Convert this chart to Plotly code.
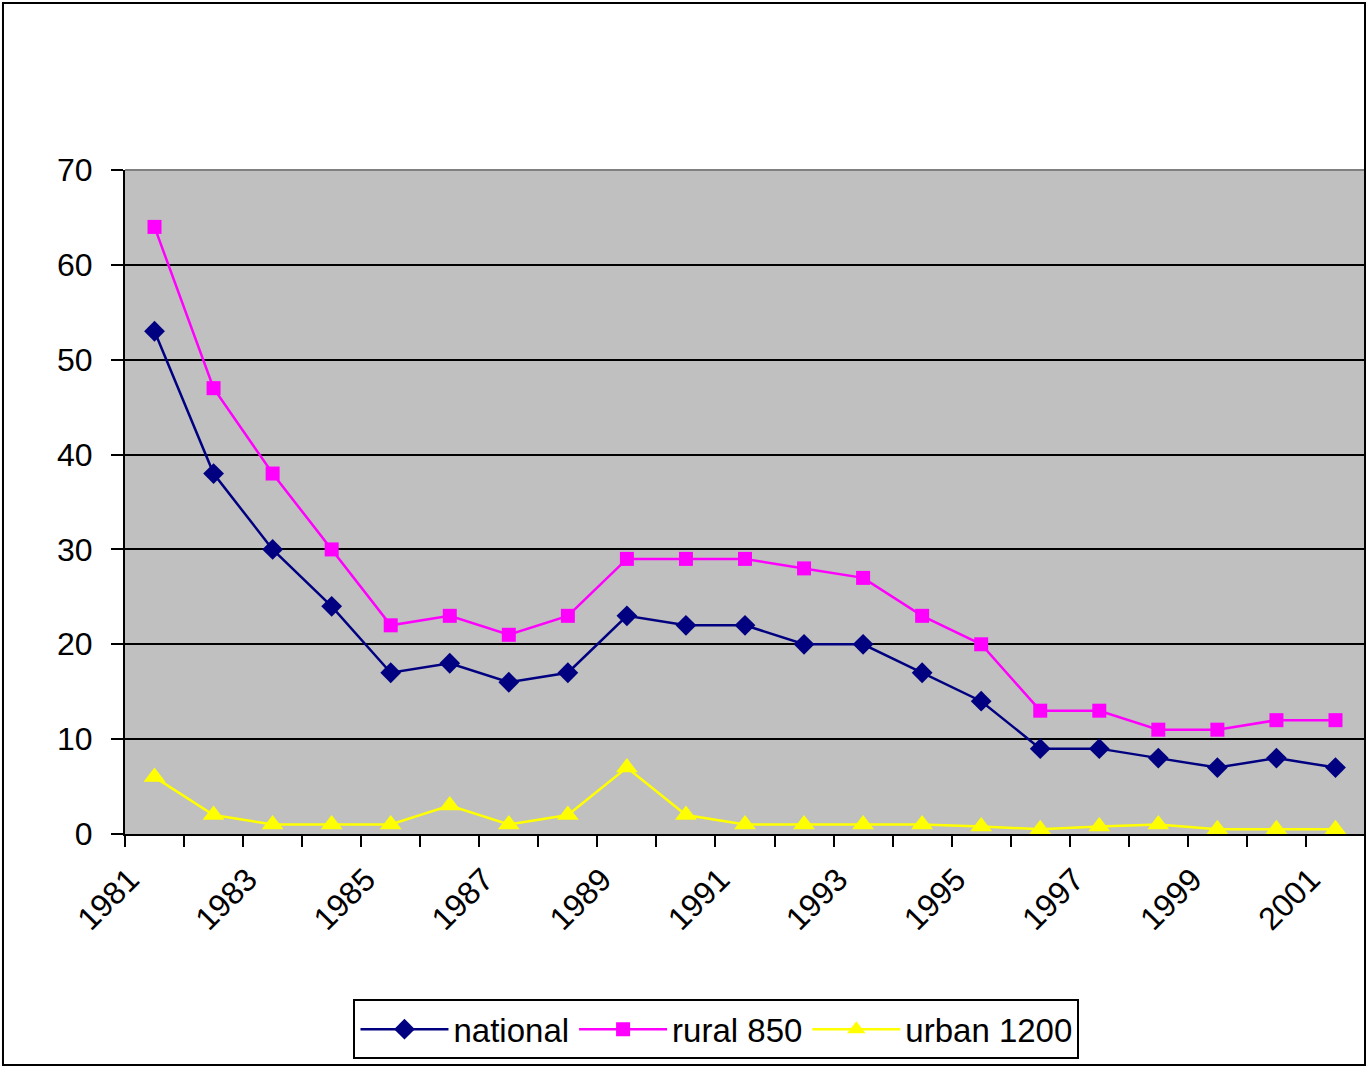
import plotly.graph_objects as go

years = list(range(1981, 2002))
national = [53, 38, 30, 24, 17, 18, 16, 17, 23, 22, 22, 20, 20, 17, 14, 9, 9, 8, 7, 8, 7]
rural_850 = [64, 47, 38, 30, 22, 23, 21, 23, 29, 29, 29, 28, 27, 23, 20, 13, 13, 11, 11, 12, 12]
urban_1200 = [6, 2, 1, 1, 1, 3, 1, 2, 7, 2, 1, 1, 1, 1, 0.8, 0.5, 0.8, 1, 0.5, 0.5, 0.5]
label_years = years[::2]
y_ticks = list(range(0, 71, 10))

FONT = "Liberation Sans, Arial, sans-serif"
# rotated year labels hang slightly left of their category
LABEL_SHIFT = 0.42

fig = go.Figure()
series = [
    ("national", national, "#000080", "diamond", 16),
    ("rural 850", rural_850, "#FF00FF", "square", 14),
    ("urban 1200", urban_1200, "#FFFF00", "triangle-up", 19),
]
for name, vals, color, symbol, size in series:
    fig.add_trace(go.Scatter(
        x=years, y=vals, name=name, mode="lines+markers",
        line=dict(color=color, width=2.5),
        marker=dict(symbol=symbol, size=size, color=color, line=dict(width=0)),
    ))

fig.update_layout(
    width=1367, height=1067,
    margin=dict(l=125, r=2, t=170, b=233),
    paper_bgcolor="white", plot_bgcolor="#C0C0C0",
    font=dict(family=FONT, size=32, color="black"),
    showlegend=True,
    legend=dict(
        orientation="h", x=0.477, xanchor="center", y=-0.294, yanchor="middle",
        bordercolor="black", borderwidth=2, bgcolor="white",
        font=dict(family=FONT, size=33), itemwidth=88,
    ),
    xaxis=dict(
        range=[1980.5, 2001.5], showgrid=False, zeroline=False,
        showline=True, linecolor="black", linewidth=2,
        tickmode="array", tickvals=[y - LABEL_SHIFT for y in label_years],
        ticktext=[str(y) for y in label_years],
        ticks="", tickangle=-45, tickfont=dict(family=FONT, size=32),
        ticklabelstandoff=12,
        minor=dict(tick0=1980.5, dtick=1, ticks="outside", ticklen=11,
                   tickwidth=2, tickcolor="black", showgrid=False),
    ),
    yaxis=dict(
        range=[0, 70], tickmode="array", tickvals=y_ticks,
        showgrid=True, gridcolor="black", gridwidth=2, zeroline=False,
        showline=True, linecolor="black", linewidth=2,
        ticks="outside", ticklen=12, tickwidth=2, tickcolor="black",
        tickfont=dict(family=FONT, size=32), ticklabelstandoff=12,
    ),
    shapes=[
        # gray top edge of the plot area
        dict(type="line", xref="paper", yref="paper", x0=0, x1=1, y0=1, y1=1,
             line=dict(color="#808080", width=2)),
        # outer frame around the whole chart
        dict(type="rect", xref="paper", yref="paper",
             x0=-0.0984, x1=1.0, y0=-0.348, y1=1.2515,
             line=dict(color="black", width=2), layer="above"),
    ],
)

fig.write_html("out.html")
